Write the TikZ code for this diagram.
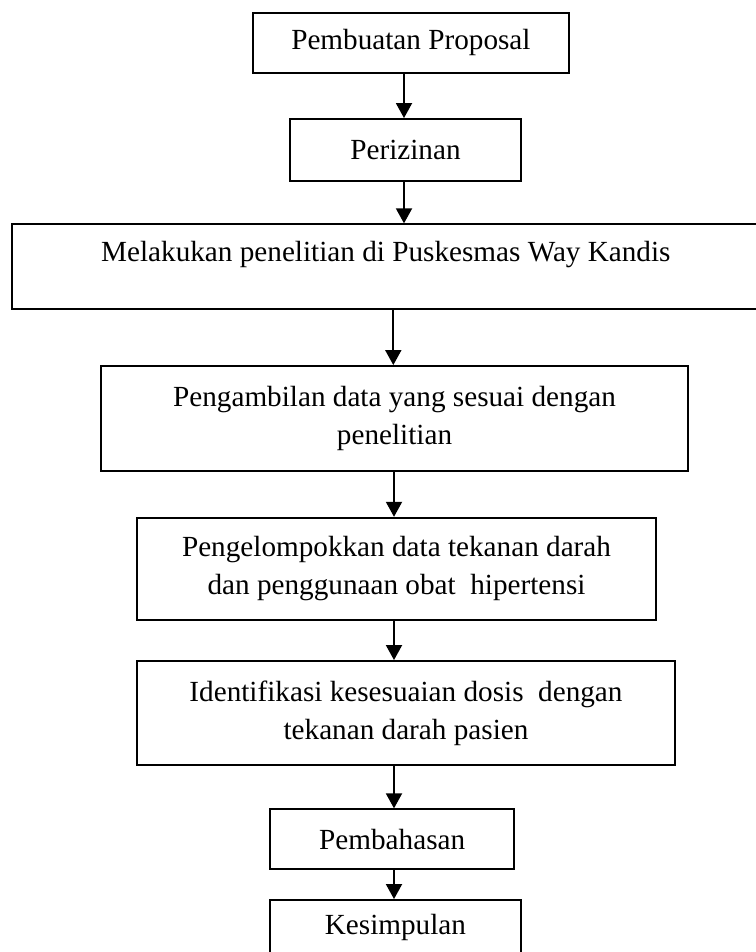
\documentclass[tikz,border=0pt]{standalone}
\usepackage{fontspec}
\setmainfont{Liberation Serif}
\usetikzlibrary{arrows.meta}
\begin{document}
\begin{tikzpicture}[x=1pt,y=-1pt,
  box/.style={draw, line width=1.9pt, rectangle, inner sep=0pt, align=center,
    font=\fontsize{29.2}{38}\selectfont},
  arr/.style={-{Triangle[width=16pt,length=15pt]}, line width=1.9pt}]
\useasboundingbox (0,0) rectangle (755,952);

\node[box, minimum width=316.3pt, minimum height=60.3pt] (b1) at (410.9,42.9) {Pembuatan Proposal};
\node[box, minimum width=231pt, minimum height=62pt] (b2) at (405.5,150) {Perizinan};
\node[box, minimum width=748.3pt, minimum height=84.4pt, text height=20pt, text depth=29.6pt] (b3) at (385.85,266.5) {Melakukan penelitian di Puskesmas Way Kandis};
\node[box, minimum width=587pt, minimum height=105pt] (b4) at (394.5,418.5) {Pengambilan data yang sesuai dengan\\penelitian};
\node[box, minimum width=519pt, minimum height=102.3pt] (b5) at (396.5,568.9) {Pengelompokkan data tekanan darah\\dan penggunaan obat\ \ hipertensi};
\node[box, minimum width=538pt, minimum height=104pt] (b6) at (406,713) {Identifikasi kesesuaian dosis\ \ dengan\\tekanan darah pasien};
\node[box, minimum width=244.3pt, minimum height=60pt] (b7) at (392.2,839.3) {Pembahasan};
\node[box, minimum width=250.7pt, minimum height=54pt] (b8) at (395.4,927) {Kesimpulan};

\coordinate (ax1) at (404,0);
\coordinate (ax3) at (393.3,0);
\coordinate (ax4) at (394,0);

\draw[arr] (b1.south -| ax1) -- (b2.north -| ax1);
\draw[arr] (b2.south -| ax1) -- (b3.north -| ax1);
\draw[arr] (b3.south -| ax3) -- (b4.north -| ax3);
\draw[arr] (b4.south -| ax4) -- (b5.north -| ax4);
\draw[arr] (b5.south -| ax4) -- (b6.north -| ax4);
\draw[arr] (b6.south -| ax4) -- (b7.north -| ax4);
\draw[arr] (b7.south -| ax4) -- (b8.north -| ax4);
\end{tikzpicture}
\end{document}
